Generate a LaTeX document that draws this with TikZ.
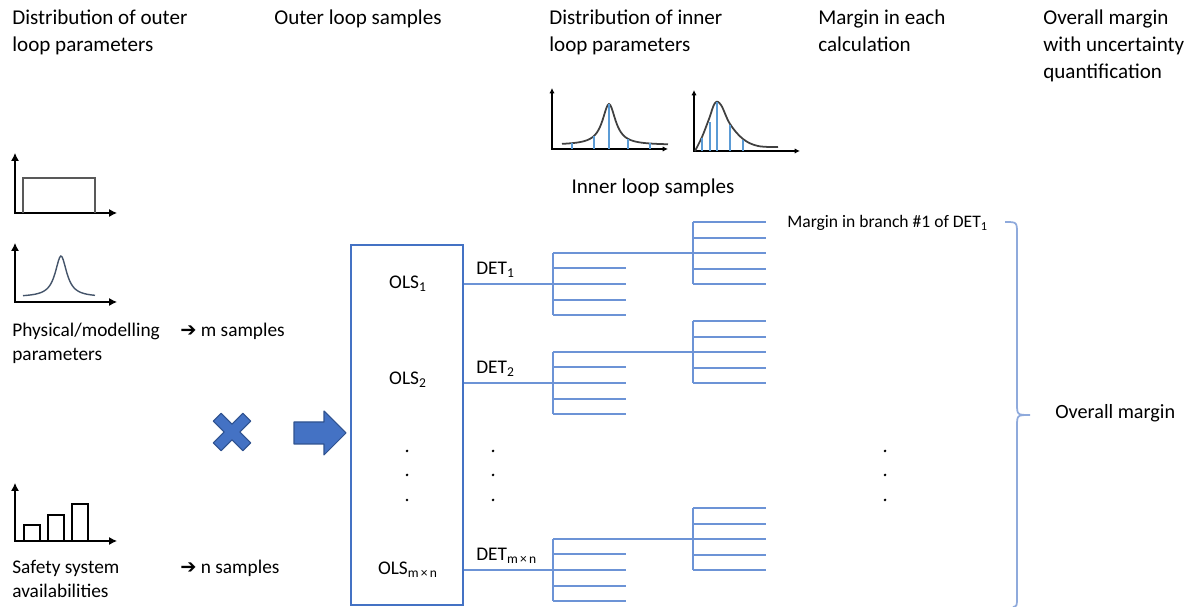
\documentclass[tikz,border=0pt]{standalone}
\usepackage{fontspec}
\setmainfont{Carlito}
\newfontfamily\arrowfont{DejaVu Sans}
\usepackage{xcolor}
\usepackage{tikz}
\usetikzlibrary{arrows.meta}

\definecolor{boxblue}{HTML}{4472C4}
\definecolor{treeblue}{HTML}{6C93D6}
\definecolor{braceblue}{HTML}{8FAADC}
\definecolor{sampleblue}{HTML}{5B9BD5}
\definecolor{xborder}{HTML}{2F528F}
\definecolor{curvegray}{HTML}{404040}
\definecolor{bellblue}{HTML}{44546A}

\tikzset{
	heading/.style={anchor=north west,inner sep=0pt,align=left,font=\fontsize{12}{15.3}\selectfont},
	side/.style={heading,font=\fontsize{11}{13.6}\selectfont},
	lbl/.style={inner sep=0pt,font=\fontsize{11}{13}\selectfont},
	axis/.style={<->,>={Latex[length=4.5pt,width=4.5pt]},line width=0.6pt},
	smallaxis/.style={<->,>={Latex[length=3pt,width=3pt]},line width=0.6pt},
	branch/.style={treeblue,line width=0.8pt},
	sample/.style={sampleblue,line width=0.9pt},
	shapeblue/.style={fill=boxblue,draw=xborder,line width=0.6pt,line join=round},
}

\begin{document}
\begin{tikzpicture}[x=0.02cm,y=-0.02cm]
	\useasboundingbox (0,0) rectangle (1198,607);
	
	\node [heading] (hd1) at (12,10) {Distribution of outer\\loop parameters};
	\node [heading] (hd2) at (274,10) {Outer loop samples};
	\node [heading] (hd3) at (549,10) {Distribution of inner\\loop parameters};
	\node [heading] (hd4) at (818,10) {Margin in each\\calculation};
	\node [heading] (hd5) at (1043,10) {Overall margin\\with uncertainty\\quantification};
	
	\begin{scope}
		\draw [axis] (15,153) -- (15,213) -- (117,213);
		\draw [gray!70!black,line width=0.7pt] (23,213) -- (23,178) -- (95,178) -- (95,213);
		
		\draw [axis] (15,243) -- (15,302) -- (117,302);
		\draw [bellblue,line width=0.8pt,domain=23:95,samples=60] plot (\x, {297-41/(1+((\x-61)/7)^2)});
		
		\draw [axis] (15,483) -- (15,541) -- (117,541);
		\foreach \xb/\yb in {24/525, 48/515, 72/504} {
			\draw [line width=0.7pt] (\xb,541) rectangle (\xb+16,\yb);
		}
	\end{scope}
	
	\node [side] (phys) at (12,323) {Physical/modelling\\parameters};
	\node [side,anchor=base west] (msmp) at (180,337) {{\arrowfont ➔} m samples};
	\node [side] (safety) at (12,560) {Safety system\\availabilities};
	\node [side,anchor=base west] (nsmp) at (180,574) {{\arrowfont ➔} n samples};
	
	\draw [shapeblue,rotate around={45:(232,432)}] (226.5,411) -- ++(11,0) -- ++(0,15.5) -- ++(15.5,0) -- ++(0,11) -- ++(-15.5,0) -- ++(0,15.5) -- ++(-11,0) -- ++(0,-15.5) -- ++(-15.5,0) -- ++(0,-11) -- ++(15.5,0) -- cycle;
	\draw [shapeblue] (294,422) -- (324,422) -- (324,411) -- (346,433) -- (324,455) -- (324,444) -- (294,444) -- cycle;
	
	\begin{scope}
		\draw [smallaxis] (552,88) -- (552,149) -- (668,149);
		\draw [curvegray,line width=1pt,domain=562:668,samples=80] plot (\x, {145-41/(1+((\x-609)/8)^2)});
		\foreach \xs in {572,594,609,628,650} {
			\draw [sample] (\xs,149) -- (\xs,{145-41/(1+((\xs-609)/8)^2)});
		}
		
		\draw [smallaxis] (694,90) -- (694,151) -- (800,151);
		\draw [curvegray,line width=1pt] plot [smooth,tension=0.6] coordinates {(695,151) (702,137) (709,119) (715,103) (721,105) (730,124) (743,139) (758,146) (778,147)};
		\foreach \xs/\ys in {702/138, 710/122, 717/102, 730/125, 743/140} {
			\draw [sample] (\xs,151) -- (\xs,\ys);
		}
	\end{scope}
	\node [heading,anchor=center] (inner) at (653,188) {Inner loop samples};
	
	\node [draw=boxblue,line width=1.1pt,minimum width=2.24cm,minimum height=7.2cm,inner sep=0pt] (olsbox) at (407,425) {};
	\node [lbl,anchor=base] (ols1) at (408,289) {OLS\textsubscript{1}};
	\node [lbl,anchor=base] (ols2) at (408,385) {OLS\textsubscript{2}};
	\node [lbl,anchor=base] (olsmn) at (408,575) {OLS\textsubscript{m\,×\,n}};
	
	\foreach \xd in {407,493,885} {
		\foreach \yd in {451,475,500} {
			\fill (\xd,\yd) circle (0.85pt);
		}
	}
	
	\foreach \y/\i/\s in {284/1/1, 383/2/2, 570/3/{m\,×\,n}} {
		\coordinate (tr\i) at (553,\y);
		\coordinate (br\i) at (693,\y-31);
		\draw [branch] (olsbox.east |- tr\i) -- (tr\i);
		\node [lbl,anchor=base west] (det\i) at (476,\y-9) {DET\textsubscript{\s}};
		\draw [branch] (553,\y-31) -- (553,\y+31);
		\draw [branch] (553,\y-31) -- (br\i);
		\foreach \d in {-16,0,16,31} {
			\draw [branch] (553,\y+\d) -- (626,\y+\d);
		}
		\draw [branch] (693,\y-62) -- (693,\y);
		\foreach \d in {-62,-46,-31,-15,0} {
			\draw [branch] (693,\y+\d) -- (766,\y+\d);
		}
	}
	
	\node [lbl,font=\fontsize{10}{12}\selectfont,anchor=west] (mrg) at (787,223) {Margin in branch \#1 of DET\textsubscript{1}};
	
	\draw [braceblue,line width=1pt] (1005,222) .. controls (1017,222) .. (1017,234) -- (1017,403) .. controls (1017,415) .. (1030,415) .. controls (1017,415) .. (1017,427) -- (1017,597) .. controls (1017,606) .. (1013,607);
	\node [lbl,font=\fontsize{11.5}{14}\selectfont,anchor=west] (overall) at (1055,413) {Overall margin};
\end{tikzpicture}
\end{document}
